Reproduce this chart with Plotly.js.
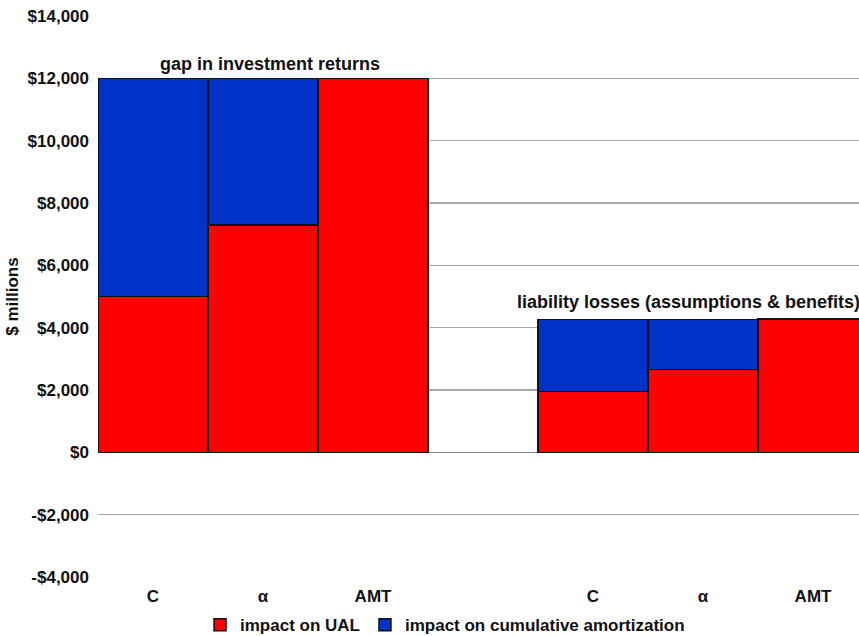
<!DOCTYPE html>
<html>
<head>
<meta charset="utf-8">
<script src="https://cdn.plot.ly/plotly-3.0.1.min.js"></script>
<style>html,body{margin:0;padding:0;background:#fff;}#chart{width:859px;height:636px;}</style>
</head>
<body>
<div id="chart"></div>
<script>
// Data
const positions = [0, 1, 2, 4, 5, 6];
const tickLabels = ["C", "α", "AMT", "C", "α", "AMT"];
const ualValues = [5000, 7300, 12000, 1950, 2650, 4280];
const amortValues = [7000, 4700, 0, 2310, 1610, 0];
const yTickVals = [-4000, -2000, 0, 2000, 4000, 6000, 8000, 10000, 12000, 14000];
const yTickText = ["-$4,000", "-$2,000", "$0", "$2,000", "$4,000", "$6,000", "$8,000", "$10,000", "$12,000", "$14,000"];
const groupLabels = ["gap in investment returns", "liability losses (assumptions & benefits)"];

const FONT = "Liberation Sans, Arial, sans-serif";
const SZ = 17;

const traces = [
  {
    type: "bar", name: "impact on UAL", x: positions, y: ualValues, width: 1,
    marker: {color: "#FF0000", line: {color: "#111111", width: 1.5}},
    hoverinfo: "skip"
  },
  {
    type: "bar", name: "impact on cumulative amortization", x: positions, y: amortValues, width: 1,
    marker: {color: "#0033C8", line: {color: "#111111", width: 1.5}},
    hoverinfo: "skip"
  }
];

const layout = {
  width: 859, height: 636,
  margin: {l: 98, r: 0, t: 16, b: 59, autoexpand: false},
  barmode: "stack", bargap: 0,
  paper_bgcolor: "#ffffff", plot_bgcolor: "#ffffff",
  font: {family: FONT, color: "#111111", size: SZ},
  showlegend: true,
  legend: {
    orientation: "h", x: 0.456, xanchor: "center", y: -0.086, yanchor: "middle",
    font: {family: FONT, size: SZ, color: "#111111", weight: "bold"},
    traceorder: "normal", itemwidth: 30
  },
  xaxis: {
    range: [-0.5, 6.418], tickmode: "array", tickvals: positions, ticktext: tickLabels,
    showgrid: false, zeroline: false, showline: false, ticks: "", ticklabelstandoff: 7,
    tickfont: {family: FONT, size: SZ, color: "#111111", weight: "bold"},
    fixedrange: true
  },
  yaxis: {
    range: [-4000, 14000], tickmode: "array", tickvals: yTickVals, ticktext: yTickText,
    showgrid: true, gridcolor: "#a8a8a8", gridwidth: 1.5,
    zeroline: true, zerolinecolor: "#888888", zerolinewidth: 1.5,
    showline: false, ticks: "", ticklabelstandoff: 8,
    tickfont: {family: FONT, size: SZ, color: "#111111", weight: "bold"},
    title: {text: "$ millions", font: {family: FONT, size: SZ, color: "#111111", weight: "bold"}, standoff: 4},
    fixedrange: true
  },
  annotations: [
    {x: 1.06, y: 12000, xref: "x", yref: "y", text: groupLabels[0], showarrow: false,
     yanchor: "bottom", yshift: 2, font: {family: FONT, size: SZ + 1, color: "#111111", weight: "bold"}},
    {x: 3.29, y: 4280, xref: "x", yref: "y", text: groupLabels[1], showarrow: false,
     xanchor: "left", yanchor: "bottom", yshift: 5,
     font: {family: FONT, size: SZ + 1, color: "#111111", weight: "bold"}}
  ]
};

Plotly.newPlot("chart", traces, layout, {displayModeBar: false, staticPlot: true});
</script>
</body>
</html>
